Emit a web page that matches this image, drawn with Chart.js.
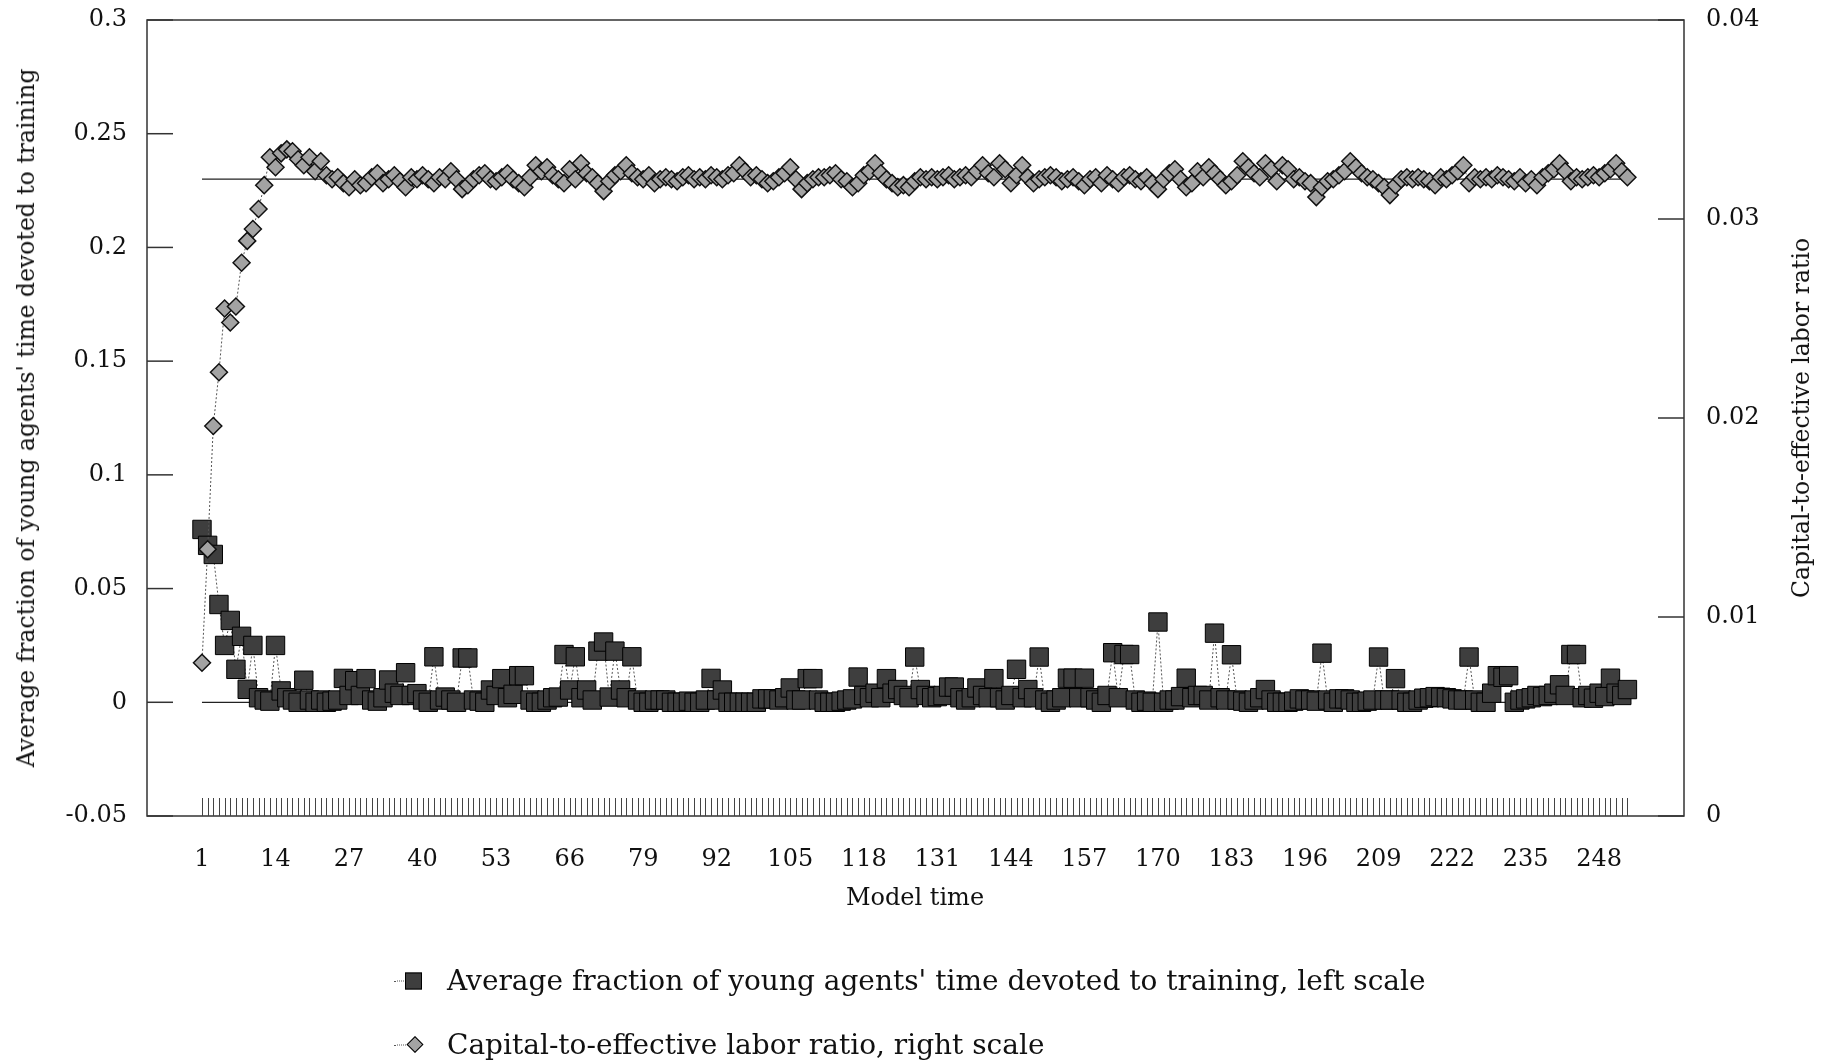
<!DOCTYPE html>
<html>
<head>
<meta charset="utf-8">
<title>Training time and capital-to-effective labor ratio</title>
<script src="https://cdn.jsdelivr.net/npm/chart.js@4.4.1/dist/chart.umd.min.js"></script>
<style>
  html, body { margin: 0; padding: 0; background: #fff; }
  #wrap { position: relative; width: 1830px; height: 1063px; overflow: hidden;
          font-family: 'DejaVu Serif', serif; color: #111; }
  #chart { position: absolute; left: 0; top: 0; }
  .vtitle { position: absolute; white-space: nowrap; font-size: 23.5px;
            transform: translate(-50%, -50%) rotate(-90deg); }
  #title-left  { left: 26px;   top: 418px; }
  #title-right { left: 1801px; top: 418px; }
  #title-x { position: absolute; left: 915px; top: 897px; font-size: 24px;
             white-space: nowrap; transform: translate(-50%, -50%); }
  .legend-row { position: absolute; left: 390px; display: flex; align-items: center;
                font-size: 28px; white-space: nowrap; transform: translateY(-50%); }
  .key { position: relative; width: 46px; height: 22px; margin-right: 11px; }
  .key-line { position: absolute; left: 4px; right: 14px; top: 11px; border-top: 1px dotted #555; }
  .key-sq { position: absolute; left: 15px; top: 3px; width: 15px; height: 15px;
            background: #3e3e3e; border: 1px solid #000; }
  .key-dm { position: absolute; left: 19px; top: 5px; width: 10px; height: 10px;
            background: #a3a3a3; border: 1px solid #000; transform: rotate(45deg); }
</style>
</head>
<body>
<div id="wrap">
  <canvas id="chart" width="1830" height="1063"></canvas>
  <div class="vtitle" id="title-left">Average fraction of young agents' time devoted to training</div>
  <div class="vtitle" id="title-right">Capital-to-effective labor ratio</div>
  <div id="title-x">Model time</div>
  <div class="legend-row" style="top:980px">
    <span class="key"><span class="key-line"></span><span class="key-sq"></span></span>
    <span>Average fraction of young agents' time devoted to training, left scale</span>
  </div>
  <div class="legend-row" style="top:1044px">
    <span class="key"><span class="key-line"></span><span class="key-dm"></span></span>
    <span>Capital-to-effective labor ratio, right scale</span>
  </div>
</div>
<script>
// ─────────────────────────────────────────────
// DATA
// ─────────────────────────────────────────────
const N_PERIODS = 253;
const TIME = Array.from({ length: N_PERIODS }, (_, i) => i + 1);   // model periods 1..253

const X_TICKS = [1, 14, 27, 40, 53, 66, 79, 92, 105, 118, 131, 144, 157, 170, 183, 196, 209, 222, 235, 248];

const LEFT_TICKS        = [-0.05, 0, 0.05, 0.1, 0.15, 0.2, 0.25, 0.3];
const LEFT_TICK_LABELS  = ['-0.05', '0', '0.05', '0.1', '0.15', '0.2', '0.25', '0.3'];
const RIGHT_TICKS       = [0, 0.01, 0.02, 0.03, 0.04];
const RIGHT_TICK_LABELS = ['0', '0.01', '0.02', '0.03', '0.04'];

// average fraction of young agents' time devoted to training (left scale)
const TRAINING = [
  0.076, 0.069, 0.065, 0.043, 0.025, 0.036, 0.0145, 0.029, 0.0057, 0.025,
  0.002, 0.001, 0.0005, 0.025, 0.005, 0.002, 0.001, 0, 0.0097, 0.001,
  0, 0.001, 0, 0.0005, 0.001, 0.0105, 0.003, 0.0095, 0.003, 0.0104,
  0.001, 0.0005, 0.002, 0.0098, 0.004, 0.003, 0.013, 0.003, 0.0038, 0.001,
  0, 0.020, 0.001, 0.0023, 0.001, 0, 0.0195, 0.0195, 0.001, 0.0005,
  0, 0.0054, 0.003, 0.0104, 0.002, 0.0035, 0.0117, 0.0117, 0.001, 0,
  0, 0.001, 0.002, 0.0023, 0.021, 0.0054, 0.020, 0.002, 0.0054, 0.001,
  0.0225, 0.0265, 0.0023, 0.0225, 0.0054, 0.002, 0.020, 0.001, 0, 0,
  0.001, 0.001, 0.001, 0, 0, 0, 0.0005, 0, 0, 0.001,
  0.0105, 0.001, 0.0054, 0, 0, 0, 0, 0, 0, 0.0015,
  0.0015, 0.0015, 0.001, 0.002, 0.0063, 0.001, 0.001, 0.0104, 0.0104, 0.001,
  0, 0, 0, 0.0005, 0.001, 0.0015, 0.0111, 0.003, 0.002, 0.004,
  0.002, 0.0104, 0.004, 0.0056, 0.003, 0.002, 0.0199, 0.0056, 0.003, 0.002,
  0.0025, 0.003, 0.0067, 0.0067, 0.002, 0.001, 0.002, 0.0063, 0.003, 0.002,
  0.0104, 0.002, 0.001, 0.003, 0.0145, 0.002, 0.0056, 0.002, 0.0199, 0.001,
  0, 0.001, 0.002, 0.0106, 0.0106, 0.002, 0.0106, 0.002, 0.001, 0,
  0.003, 0.0218, 0.002, 0.021, 0.021, 0.001, 0, 0.0005, 0, 0.0353,
  0, 0.001, 0.001, 0.0025, 0.0106, 0.002, 0.003, 0.003, 0.001, 0.0304,
  0.002, 0.001, 0.0209, 0.001, 0.0005, 0, 0.001, 0.002, 0.0056, 0.001,
  0, 0, 0, 0.0005, 0.0015, 0.001, 0.001, 0.0005, 0.0216, 0.001,
  0, 0.0015, 0.0015, 0.001, 0, 0, 0.0005, 0.001, 0.0199, 0.001,
  0.001, 0.0104, 0.001, 0, 0, 0.001, 0.0018, 0.002, 0.0025, 0.0022,
  0.002, 0.0015, 0.001, 0.001, 0.0199, 0.001, 0, 0, 0.004, 0.0117,
  0.011, 0.0117, 0, 0.001, 0.0015, 0.002, 0.003, 0.0025, 0.003, 0.004,
  0.0077, 0.003, 0.021, 0.021, 0.002, 0.003, 0.0018, 0.004, 0.0025, 0.0106,
  0.004, 0.003, 0.0056,
];

// capital-to-effective labor ratio (right scale)
const KRATIO = [
  0.0077, 0.0134, 0.0196, 0.0223, 0.0255, 0.0248, 0.0256, 0.0278, 0.0289, 0.0295,
  0.0305, 0.0317, 0.0331, 0.0326, 0.0333, 0.0335, 0.0334, 0.0330, 0.0327, 0.0331,
  0.0324, 0.0329, 0.0322, 0.0320, 0.0321, 0.0318, 0.0316, 0.0320, 0.0317, 0.0318,
  0.0321, 0.0323, 0.0318, 0.0320, 0.0322, 0.0319, 0.0316, 0.0321, 0.0320, 0.0322,
  0.0320, 0.0318, 0.0321, 0.0320, 0.0324, 0.0320, 0.0315, 0.0317, 0.0320, 0.0322,
  0.0323, 0.0320, 0.0319, 0.0321, 0.0323, 0.0320, 0.0318, 0.0316, 0.0321, 0.0327,
  0.0324, 0.0326, 0.0322, 0.0320, 0.0318, 0.0325, 0.0320, 0.0328, 0.0323, 0.0321,
  0.0318, 0.0314, 0.0319, 0.0322, 0.0324, 0.0327, 0.0323, 0.0321, 0.0320, 0.0322,
  0.0318, 0.0320, 0.0321, 0.0320, 0.0319, 0.0321, 0.0322, 0.0320, 0.0321, 0.0320,
  0.0322, 0.0321, 0.0320, 0.0322, 0.0323, 0.0327, 0.0324, 0.0321, 0.0322, 0.0320,
  0.0318, 0.0319, 0.0321, 0.0323, 0.0326, 0.0320, 0.0315, 0.0318, 0.0320, 0.0321,
  0.0321, 0.0322, 0.0323, 0.0320, 0.0319, 0.0316, 0.0318, 0.0322, 0.0324, 0.0328,
  0.0323, 0.0320, 0.0318, 0.0316, 0.0317, 0.0316, 0.0319, 0.0321, 0.0320, 0.0321,
  0.0320, 0.0321, 0.0322, 0.0320, 0.0321, 0.0322, 0.0321, 0.0324, 0.0327, 0.0323,
  0.0321, 0.0328, 0.0325, 0.0318, 0.0322, 0.0327, 0.0321, 0.0318, 0.0320, 0.0321,
  0.0322, 0.0321, 0.0319, 0.0320, 0.0321, 0.0319, 0.0317, 0.0320, 0.0321, 0.0318,
  0.0322, 0.0320, 0.0318, 0.0321, 0.0322, 0.0320, 0.0319, 0.0321, 0.0318, 0.0315,
  0.0320, 0.0323, 0.0325, 0.0320, 0.0316, 0.0318, 0.0324, 0.0321, 0.0326, 0.0323,
  0.0320, 0.0317, 0.0319, 0.0322, 0.0329, 0.0326, 0.0323, 0.0321, 0.0328, 0.0325,
  0.0319, 0.0327, 0.0325, 0.0320, 0.0321, 0.0319, 0.0318, 0.0311, 0.0316, 0.0319,
  0.0320, 0.0322, 0.0324, 0.0329, 0.0326, 0.0323, 0.0321, 0.0320, 0.0318, 0.0316,
  0.0312, 0.0317, 0.0320, 0.0321, 0.0320, 0.0321, 0.0320, 0.0319, 0.0317, 0.0321,
  0.0320, 0.0322, 0.0324, 0.0327, 0.0318, 0.0321, 0.0320, 0.0321, 0.0320, 0.0322,
  0.0321, 0.0320, 0.0319, 0.0321, 0.0318, 0.0320, 0.0317, 0.0321, 0.0323, 0.0325,
  0.0328, 0.0324, 0.0319, 0.0321, 0.0320, 0.0321, 0.0322, 0.0321, 0.0323, 0.0325,
  0.0328, 0.0324, 0.0321,
];

const K_STEADY = 0.032;      // steady-state reference line, right scale
const TRAIN_BASE = 0;        // reference line at zero, left scale

if (TRAINING.length !== N_PERIODS || KRATIO.length !== N_PERIODS) {
  throw new Error(`length mismatch: training ${TRAINING.length}, k ${KRATIO.length}`);
}

// ─────────────────────────────────────────────
// LAYOUT / STYLE
// ─────────────────────────────────────────────
const FONT = { family: "'DejaVu Serif', serif", size: 24 };
const INK = '#111';
const X_MIN = -8.72, X_MAX = 263.0;

const pts = ys => TIME.map((t, i) => ({ x: t, y: ys[i] }));
const flat = v => [{ x: TIME[0], y: v }, { x: TIME[TIME.length - 1], y: v }];

// pin the plot box: fixed side widths, no extra room reserved for end labels
const fixWidth = w => s => { s.width = w; s.paddingTop = 0; s.paddingBottom = 0; };

// box, inward ticks on both value axes, one small mark per period along the bottom
const framePlugin = {
  id: 'frame',
  beforeDatasetsDraw(chart) {
    const { ctx, chartArea: a, scales } = chart;
    const seg = (x1, y1, x2, y2) => { ctx.beginPath(); ctx.moveTo(x1, y1); ctx.lineTo(x2, y2); ctx.stroke(); };
    ctx.save();
    ctx.strokeStyle = '#333';
    ctx.lineWidth = 1.5;
    ctx.strokeRect(a.left, a.top, a.right - a.left, a.bottom - a.top);
    LEFT_TICKS.forEach(v => {
      const y = scales.y.getPixelForValue(v);
      seg(a.left, y, a.left + 26, y);
    });
    RIGHT_TICKS.forEach(v => {
      const y = scales.y1.getPixelForValue(v);
      seg(a.right - 26, y, a.right, y);
    });
    ctx.lineWidth = 1;
    ctx.strokeStyle = '#444';
    TIME.forEach(t => {
      const x = Math.round(scales.x.getPixelForValue(t)) + 0.5;
      seg(x, a.bottom - 18, x, a.bottom);
    });
    ctx.restore();
  },
};

// ─────────────────────────────────────────────
// CHART
// ─────────────────────────────────────────────
new Chart(document.getElementById('chart'), {
  type: 'line',
  data: {
    datasets: [
      {
        label: 'Capital-to-effective labor ratio, right scale',
        data: pts(KRATIO),
        yAxisID: 'y1',
        order: 0,
        borderColor: '#555',
        borderWidth: 1,
        borderDash: [2, 2],
        pointStyle: 'rectRot',
        pointRadius: 8.5,
        pointBackgroundColor: '#a3a3a3',
        pointBorderColor: '#111',
        pointBorderWidth: 1.5,
      },
      {
        label: "Average fraction of young agents' time devoted to training, left scale",
        data: pts(TRAINING),
        yAxisID: 'y',
        order: 1,
        borderColor: '#555',
        borderWidth: 1,
        borderDash: [2, 2],
        pointStyle: 'rect',
        pointRadius: 13,
        pointBackgroundColor: '#3e3e3e',
        pointBorderColor: '#000',
        pointBorderWidth: 1,
      },
      {
        label: 'steady state',
        data: flat(K_STEADY),
        yAxisID: 'y1',
        order: 2,
        borderColor: '#222',
        borderWidth: 1.3,
        pointRadius: 0,
      },
      {
        label: 'zero',
        data: flat(TRAIN_BASE),
        yAxisID: 'y',
        order: 3,
        borderColor: '#222',
        borderWidth: 1.3,
        pointRadius: 0,
      },
    ],
  },
  options: {
    responsive: false,
    animation: false,
    events: [],
    layout: { padding: { top: 20, left: 0, right: 0, bottom: 0 } },
    plugins: { legend: { display: false }, tooltip: { enabled: false } },
    scales: {
      x: {
        type: 'linear',
        min: X_MIN, max: X_MAX,
        afterBuildTicks: s => { s.ticks = X_TICKS.map(v => ({ value: v })); },
        afterFit: s => { s.height = 247; },
        grid: { display: false, drawTicks: false },
        border: { display: false },
        ticks: { font: FONT, color: INK, padding: 29, maxRotation: 0, autoSkip: false,
                 callback: v => String(v) },
      },
      y: {
        position: 'left',
        min: -0.05, max: 0.3,
        afterBuildTicks: s => { s.ticks = LEFT_TICKS.map(v => ({ value: v })); },
        afterFit: fixWidth(147),
        grid: { display: false, drawTicks: false },
        border: { display: false },
        ticks: { font: FONT, color: INK, padding: 20, callback: (v, i) => LEFT_TICK_LABELS[i] },
      },
      y1: {
        position: 'right',
        min: 0, max: 0.04,
        afterBuildTicks: s => { s.ticks = RIGHT_TICKS.map(v => ({ value: v })); },
        afterFit: fixWidth(146),
        grid: { display: false, drawTicks: false },
        border: { display: false },
        ticks: { font: FONT, color: INK, padding: 22, callback: (v, i) => RIGHT_TICK_LABELS[i] },
      },
    },
  },
  plugins: [framePlugin],
});
</script>
</body>
</html>
